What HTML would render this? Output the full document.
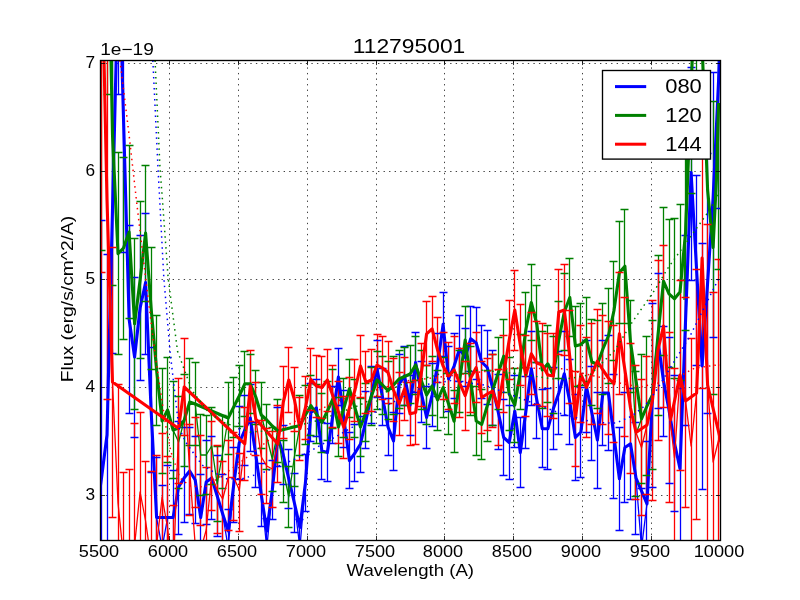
<!DOCTYPE html>
<html><head><meta charset="utf-8"><title>112795001</title>
<style>html,body{margin:0;padding:0;background:#fff;}body{width:800px;height:600px;overflow:hidden;font-family:"Liberation Sans",sans-serif;}</style>
</head><body>
<svg width="800" height="600" viewBox="0 0 800 600" style="display:block">
<rect width="800" height="600" fill="#ffffff"/>
<defs><clipPath id="ax"><rect x="100.5" y="60.5" width="620.0" height="480.0"/></clipPath></defs>
<path d="M169.5,540.5 V60.5 M238.5,540.5 V60.5 M307.5,540.5 V60.5 M376.5,540.5 V60.5 M444.5,540.5 V60.5 M513.5,540.5 V60.5 M582.5,540.5 V60.5 M651.5,540.5 V60.5 M100.5,63.5 H720.5 M100.5,171.5 H720.5 M100.5,279.5 H720.5 M100.5,387.5 H720.5 M100.5,495.5 H720.5" stroke="#000" stroke-width="0.75" stroke-dasharray="1.35 4.2" fill="none"/>
<g clip-path="url(#ax)">
<path d="M101.5,220.2 V800.0 M107.5,254.4 V800.0 M112.5,-100.0 V353.0 M118.5,-300.0 V94.4 M123.5,-100.0 V252.5 M129.5,225.0 V413.0 M134.5,277.0 V437.0 M140.5,235.5 V380.5 M145.5,213.5 V354.4 M151.5,347.5 V472.5 M156.5,457.0 V578.0 M162.5,485.0 V605.0 M167.5,465.5 V569.5 M173.5,470.5 V564.5 M178.5,421.6 V534.4 M184.5,427.8 V522.2 M189.5,427.0 V514.4 M195.5,436.7 V523.3 M200.5,474.8 V560.2 M206.5,440.0 V524.0 M211.5,436.7 V519.3 M217.5,455.3 V536.7 M222.5,474.0 V554.0 M228.5,509.2 V586.8 M233.5,447.5 V522.5 M239.5,406.8 V479.2 M244.5,395.0 V465.0 M250.5,384.2 V451.8 M255.5,422.5 V487.5 M261.5,463.8 V526.2 M266.5,518.0 V578.0 M272.5,460.2 V519.8 M277.5,407.3 V466.7 M283.5,425.5 V484.5 M288.5,449.7 V508.3 M294.5,473.8 V532.2 M299.5,519.0 V577.0 M305.5,454.1 V511.9 M310.5,383.7 V441.3 M316.5,379.3 V436.7 M321.5,422.4 V479.6 M327.5,424.0 V481.0 M332.5,386.5 V443.5 M338.5,348.6 V405.4 M343.5,390.7 V447.3 M349.5,432.4 V488.8 M354.5,424.9 V481.1 M360.5,416.0 V472.0 M365.5,391.8 V448.2 M371.5,366.7 V423.3 M377.5,340.2 V397.2 M382.5,368.3 V425.7 M388.5,398.2 V455.8 M393.5,412.0 V470.0 M399.5,354.7 V413.3 M404.5,346.3 V405.7 M410.5,375.0 V435.0 M415.5,332.2 V392.8 M421.5,361.3 V422.7 M426.5,386.5 V448.5 M432.5,363.7 V426.3 M437.5,333.3 V396.7 M443.5,292.4 V356.4 M448.5,346.4 V411.1 M454.5,333.3 V398.7 M459.5,315.8 V381.8 M465.5,328.5 V386.5 M470.5,306.2 V371.2 M476.5,307.0 V379.0 M481.5,325.6 V398.4 M487.5,330.8 V404.2 M492.5,350.9 V425.1 M498.5,374.6 V449.4 M503.5,399.8 V475.2 M509.5,405.7 V479.3 M514.5,375.3 V447.2 M520.5,417.5 V487.5 M525.5,376.0 V448.0 M531.5,331.8 V405.8 M536.5,362.0 V438.0 M542.5,389.8 V467.8 M547.5,388.1 V469.4 M553.5,367.7 V449.8 M558.5,351.5 V434.5 M564.5,331.9 V415.6 M569.5,359.7 V444.3 M575.5,394.8 V480.2 M580.5,387.0 V477.0 M586.5,340.2 V432.2 M591.5,366.0 V460.0 M597.5,392.0 V488.0 M602.5,340.3 V445.7 M608.5,335.7 V450.3 M613.5,374.0 V498.0 M619.5,427.1 V530.4 M624.5,392.8 V502.2 M630.5,388.1 V499.4 M635.5,422.0 V534.0 M641.5,488.0 V608.0 M646.5,441.8 V565.8 M652.5,303.0 V487.0 M658.5,273.5 V408.5 M663.5,326.0 V436.0 M669.5,337.0 V483.0 M674.5,375.0 V511.0 M680.5,388.8 V548.8 M685.5,235.0 V425.0 M691.5,67.5 V280.0 M696.5,175.0 V365.0 M702.5,243.0 V489.0 M707.5,153.0 V413.0 M713.5,72.5 V337.0 M718.5,-48.0 V208.0" stroke="#0000ff" stroke-width="1.3" fill="none"/>
<path d="M101.5,-100.0 V250.6 M107.5,-300.0 V94.0 M112.5,-100.0 V285.2 M118.5,152.8 V354.8 M123.5,157.0 V339.0 M129.5,145.4 V318.6 M134.5,238.1 V409.4 M140.5,201.4 V358.6 M145.5,165.0 V301.0 M151.5,247.0 V369.0 M156.5,315.0 V425.0 M162.5,368.2 V473.8 M167.5,357.6 V462.4 M173.5,381.6 V478.4 M178.5,396.0 V488.0 M184.5,374.5 V466.5 M189.5,358.1 V445.9 M195.5,362.5 V445.5 M200.5,414.4 V495.6 M206.5,415.3 V494.7 M211.5,407.2 V484.8 M217.5,446.2 V521.8 M222.5,415.1 V488.9 M228.5,382.0 V454.0 M233.5,377.0 V437.0 M239.5,365.4 V426.6 M244.5,351.2 V416.2 M250.5,354.0 V413.5 M255.5,370.0 V424.0 M261.5,382.0 V448.0 M266.5,404.5 V469.5 M272.5,427.0 V491.0 M277.5,399.5 V462.5 M283.5,440.0 V502.0 M288.5,466.5 V527.5 M294.5,426.5 V486.5 M299.5,395.7 V455.5 M305.5,385.2 V444.8 M310.5,375.9 V435.3 M316.5,384.4 V443.6 M321.5,393.0 V452.0 M327.5,381.6 V440.4 M332.5,369.7 V428.3 M338.5,397.8 V456.2 M343.5,378.9 V437.1 M349.5,359.8 V417.8 M354.5,379.0 V437.0 M360.5,398.0 V456.0 M365.5,383.0 V441.0 M371.5,367.0 V425.0 M377.5,351.0 V409.0 M382.5,356.0 V414.0 M388.5,361.6 V419.6 M393.5,356.0 V414.0 M399.5,350.0 V408.0 M404.5,347.5 V405.5 M410.5,345.0 V403.0 M415.5,336.0 V394.0 M421.5,350.8 V409.2 M426.5,365.5 V424.5 M432.5,356.2 V415.8 M437.5,370.0 V430.0 M443.5,357.2 V417.8 M448.5,373.5 V434.5 M454.5,390.5 V452.0 M459.5,350.0 V412.0 M465.5,306.2 V373.8 M470.5,346.8 V415.2 M476.5,386.4 V455.6 M481.5,389.4 V459.4 M487.5,370.7 V441.3 M492.5,354.3 V425.7 M498.5,337.0 V409.0 M503.5,319.9 V392.6 M509.5,357.3 V430.7 M514.5,368.0 V442.0 M520.5,334.7 V409.3 M525.5,292.3 V367.7 M531.5,264.5 V340.5 M536.5,285.9 V362.1 M542.5,331.7 V408.3 M547.5,325.3 V402.2 M553.5,336.4 V413.6 M558.5,301.3 V378.7 M564.5,273.1 V350.9 M569.5,258.5 V336.5 M575.5,306.0 V386.0 M580.5,303.4 V385.4 M586.5,297.4 V381.4 M591.5,319.0 V405.0 M597.5,320.4 V408.4 M602.5,303.2 V394.8 M608.5,288.5 V383.5 M613.5,261.8 V360.2 M619.5,221.5 V323.5 M624.5,209.2 V323.2 M630.5,300.4 V392.0 M635.5,371.9 V496.1 M641.5,354.1 V483.4 M646.5,336.3 V475.7 M652.5,320.1 V469.9 M658.5,255.0 V415.0 M663.5,207.2 V355.2 M669.5,219.8 V367.8 M674.5,218.8 V378.8 M680.5,204.0 V380.0 M685.5,120.0 V330.0 M691.5,-200.0 V193.5 M696.5,-300.0 V120.0 M702.5,-300.0 V30.0 M713.5,101.5 V394.0 M718.5,-100.0 V269.4" stroke="#008000" stroke-width="1.3" fill="none"/>
<path d="M101.5,-100.0 V272.5 M107.5,-100.0 V399.4 M112.5,247.5 V517.0 M118.5,384.4 V700.0 M123.5,472.5 V700.0 M129.5,469.8 V700.0 M134.5,423.5 V700.0 M140.5,412.5 V700.0 M145.5,461.2 V700.0 M151.5,471.2 V700.0 M156.5,455.6 V700.0 M162.5,433.0 V700.0 M167.5,456.5 V700.0 M173.5,505.2 V700.0 M178.5,378.0 V483.5 M184.5,338.4 V435.6 M189.5,424.0 V515.6 M195.5,417.0 V507.5 M200.5,435.0 V525.0 M206.5,467.5 V557.0 M211.5,421.2 V510.0 M217.5,445.4 V533.0 M222.5,461.0 V550.0 M228.5,440.0 V530.0 M233.5,432.0 V520.0 M239.5,453.0 V531.0 M244.5,407.2 V480.3 M250.5,350.4 V421.6 M255.5,382.7 V455.3 M261.5,420.0 V494.0 M266.5,428.5 V503.5 M272.5,431.0 V507.0 M277.5,405.5 V482.5 M283.5,366.0 V438.0 M288.5,347.5 V412.5 M294.5,367.4 V431.6 M299.5,397.0 V460.5 M305.5,376.6 V439.4 M310.5,348.4 V410.4 M316.5,355.0 V417.0 M321.5,356.5 V418.5 M327.5,349.0 V411.0 M332.5,365.0 V427.0 M338.5,381.0 V443.0 M343.5,396.5 V458.5 M349.5,377.0 V439.0 M354.5,359.0 V421.0 M360.5,335.0 V397.0 M365.5,351.5 V413.5 M371.5,349.0 V411.0 M377.5,334.0 V396.0 M382.5,336.9 V399.1 M388.5,341.3 V403.7 M393.5,358.7 V421.3 M399.5,372.3 V435.2 M404.5,357.2 V420.3 M410.5,382.1 V445.4 M415.5,380.7 V444.3 M421.5,343.1 V406.9 M426.5,301.8 V365.8 M432.5,296.4 V361.1 M437.5,317.3 V382.7 M443.5,332.9 V399.1 M448.5,342.5 V409.5 M454.5,336.2 V403.8 M459.5,348.8 V417.2 M465.5,361.1 V430.1 M470.5,343.1 V412.9 M476.5,332.2 V402.8 M481.5,361.9 V433.1 M487.5,358.0 V430.0 M492.5,354.2 V427.8 M498.5,369.9 V445.1 M503.5,335.6 V412.4 M509.5,300.8 V379.2 M514.5,270.0 V350.0 M520.5,304.7 V385.3 M525.5,335.4 V416.6 M531.5,312.8 V394.7 M536.5,321.7 V404.3 M542.5,323.4 V406.6 M547.5,333.1 V416.9 M553.5,333.7 V418.3 M558.5,269.4 V354.6 M564.5,264.4 V355.6 M569.5,310.3 V403.7 M575.5,371.0 V466.5 M580.5,325.2 V422.8 M586.5,337.6 V437.4 M591.5,323.1 V424.9 M597.5,309.2 V413.2 M602.5,315.8 V424.2 M608.5,321.5 V434.5 M613.5,325.0 V442.5 M619.5,272.8 V394.8 M624.5,297.2 V436.0 M630.5,343.0 V473.0 M635.5,365.5 V499.5 M641.5,379.5 V515.5 M646.5,356.0 V494.0 M652.5,300.0 V500.0 M658.5,260.0 V440.0 M663.5,245.0 V407.0 M669.5,332.5 V502.5 M674.5,368.0 V548.0 M680.5,280.0 V470.0 M685.5,297.5 V507.2 M691.5,338.0 V554.0 M696.5,269.4 V519.4 M702.5,128.0 V388.0 M707.5,224.0 V546.0 M713.5,292.0 V632.0 M718.5,259.0 V621.0" stroke="#ff0000" stroke-width="1.3" fill="none"/>
<path d="M97.5,220.5 H105.5 M97.5,800.5 H105.5 M103.5,254.5 H111.5 M103.5,800.5 H111.5 M108.5,-99.5 H116.5 M108.5,353.5 H116.5 M114.5,-299.5 H122.5 M114.5,94.5 H122.5 M119.5,-99.5 H127.5 M119.5,252.5 H127.5 M125.5,225.5 H133.5 M125.5,413.5 H133.5 M130.5,277.5 H138.5 M130.5,437.5 H138.5 M136.5,235.5 H144.5 M136.5,380.5 H144.5 M141.5,213.5 H149.5 M141.5,354.5 H149.5 M147.5,347.5 H155.5 M147.5,472.5 H155.5 M152.5,457.5 H160.5 M152.5,578.5 H160.5 M158.5,485.5 H166.5 M158.5,605.5 H166.5 M163.5,465.5 H171.5 M163.5,569.5 H171.5 M169.5,470.5 H177.5 M169.5,564.5 H177.5 M174.5,421.5 H182.5 M174.5,534.5 H182.5 M180.5,427.5 H188.5 M180.5,522.5 H188.5 M185.5,427.5 H193.5 M185.5,514.5 H193.5 M191.5,436.5 H199.5 M191.5,523.5 H199.5 M196.5,474.5 H204.5 M196.5,560.5 H204.5 M202.5,440.5 H210.5 M202.5,524.5 H210.5 M207.5,436.5 H215.5 M207.5,519.5 H215.5 M213.5,455.5 H221.5 M213.5,536.5 H221.5 M218.5,474.5 H226.5 M218.5,554.5 H226.5 M224.5,509.5 H232.5 M224.5,586.5 H232.5 M229.5,447.5 H237.5 M229.5,522.5 H237.5 M235.5,406.5 H243.5 M235.5,479.5 H243.5 M240.5,395.5 H248.5 M240.5,465.5 H248.5 M246.5,384.5 H254.5 M246.5,451.5 H254.5 M251.5,422.5 H259.5 M251.5,487.5 H259.5 M257.5,463.5 H265.5 M257.5,526.5 H265.5 M262.5,518.5 H270.5 M262.5,578.5 H270.5 M268.5,460.5 H276.5 M268.5,519.5 H276.5 M273.5,407.5 H281.5 M273.5,466.5 H281.5 M279.5,425.5 H287.5 M279.5,484.5 H287.5 M284.5,449.5 H292.5 M284.5,508.5 H292.5 M290.5,473.5 H298.5 M290.5,532.5 H298.5 M295.5,519.5 H303.5 M295.5,577.5 H303.5 M301.5,454.5 H309.5 M301.5,511.5 H309.5 M306.5,383.5 H314.5 M306.5,441.5 H314.5 M312.5,379.5 H320.5 M312.5,436.5 H320.5 M317.5,422.5 H325.5 M317.5,479.5 H325.5 M323.5,423.5 H331.5 M323.5,481.5 H331.5 M328.5,386.5 H336.5 M328.5,443.5 H336.5 M334.5,348.5 H342.5 M334.5,405.5 H342.5 M339.5,390.5 H347.5 M339.5,447.5 H347.5 M345.5,432.5 H353.5 M345.5,488.5 H353.5 M350.5,424.5 H358.5 M350.5,481.5 H358.5 M356.5,416.5 H364.5 M356.5,472.5 H364.5 M361.5,391.5 H369.5 M361.5,448.5 H369.5 M367.5,366.5 H375.5 M367.5,423.5 H375.5 M373.5,340.5 H381.5 M373.5,397.5 H381.5 M378.5,368.5 H386.5 M378.5,425.5 H386.5 M384.5,398.5 H392.5 M384.5,455.5 H392.5 M389.5,412.5 H397.5 M389.5,470.5 H397.5 M395.5,354.5 H403.5 M395.5,413.5 H403.5 M400.5,346.5 H408.5 M400.5,405.5 H408.5 M406.5,375.5 H414.5 M406.5,435.5 H414.5 M411.5,332.5 H419.5 M411.5,392.5 H419.5 M417.5,361.5 H425.5 M417.5,422.5 H425.5 M422.5,386.5 H430.5 M422.5,448.5 H430.5 M428.5,363.5 H436.5 M428.5,426.5 H436.5 M433.5,333.5 H441.5 M433.5,396.5 H441.5 M439.5,292.5 H447.5 M439.5,356.5 H447.5 M444.5,346.5 H452.5 M444.5,411.5 H452.5 M450.5,333.5 H458.5 M450.5,398.5 H458.5 M455.5,315.5 H463.5 M455.5,381.5 H463.5 M461.5,328.5 H469.5 M461.5,386.5 H469.5 M466.5,306.5 H474.5 M466.5,371.5 H474.5 M472.5,307.5 H480.5 M472.5,379.5 H480.5 M477.5,325.5 H485.5 M477.5,398.5 H485.5 M483.5,330.5 H491.5 M483.5,404.5 H491.5 M488.5,350.5 H496.5 M488.5,425.5 H496.5 M494.5,374.5 H502.5 M494.5,449.5 H502.5 M499.5,399.5 H507.5 M499.5,475.5 H507.5 M505.5,405.5 H513.5 M505.5,479.5 H513.5 M510.5,375.5 H518.5 M510.5,447.5 H518.5 M516.5,417.5 H524.5 M516.5,487.5 H524.5 M521.5,376.5 H529.5 M521.5,448.5 H529.5 M527.5,331.5 H535.5 M527.5,405.5 H535.5 M532.5,362.5 H540.5 M532.5,438.5 H540.5 M538.5,389.5 H546.5 M538.5,467.5 H546.5 M543.5,388.5 H551.5 M543.5,469.5 H551.5 M549.5,367.5 H557.5 M549.5,449.5 H557.5 M554.5,351.5 H562.5 M554.5,434.5 H562.5 M560.5,331.5 H568.5 M560.5,415.5 H568.5 M565.5,359.5 H573.5 M565.5,444.5 H573.5 M571.5,394.5 H579.5 M571.5,480.5 H579.5 M576.5,387.5 H584.5 M576.5,477.5 H584.5 M582.5,340.5 H590.5 M582.5,432.5 H590.5 M587.5,366.5 H595.5 M587.5,460.5 H595.5 M593.5,392.5 H601.5 M593.5,488.5 H601.5 M598.5,340.5 H606.5 M598.5,445.5 H606.5 M604.5,335.5 H612.5 M604.5,450.5 H612.5 M609.5,374.5 H617.5 M609.5,498.5 H617.5 M615.5,427.5 H623.5 M615.5,530.5 H623.5 M620.5,392.5 H628.5 M620.5,502.5 H628.5 M626.5,388.5 H634.5 M626.5,499.5 H634.5 M631.5,422.5 H639.5 M631.5,534.5 H639.5 M637.5,488.5 H645.5 M637.5,608.5 H645.5 M642.5,441.5 H650.5 M642.5,565.5 H650.5 M648.5,303.5 H656.5 M648.5,487.5 H656.5 M654.5,273.5 H662.5 M654.5,408.5 H662.5 M659.5,326.5 H667.5 M659.5,436.5 H667.5 M665.5,337.5 H673.5 M665.5,483.5 H673.5 M670.5,375.5 H678.5 M670.5,511.5 H678.5 M676.5,388.5 H684.5 M676.5,548.5 H684.5 M681.5,235.5 H689.5 M681.5,425.5 H689.5 M687.5,67.5 H695.5 M687.5,280.5 H695.5 M692.5,175.5 H700.5 M692.5,365.5 H700.5 M698.5,243.5 H706.5 M698.5,489.5 H706.5 M703.5,153.5 H711.5 M703.5,413.5 H711.5 M709.5,72.5 H717.5 M709.5,337.5 H717.5 M714.5,-47.5 H722.5 M714.5,208.5 H722.5" stroke="#0000ff" stroke-width="1.3" fill="none"/>
<path d="M129.1,319.0 L134.6,357.0 L140.1,308.0 L145.6,282.5 L151.1,410.0 L156.6,517.5 L162.1,548.0 L167.6,517.5 L173.1,517.5 L178.6,487.0 L184.1,478.0 L189.7,471.0 L195.2,480.0 L200.7,517.5 L206.2,482.0 L211.7,478.0 L217.2,496.0 L222.7,514.0 L228.2,548.0 L233.7,485.0 L239.2,443.0 L244.8,430.0 L250.3,418.0 L255.8,455.0 L261.3,495.0 L266.8,548.0 L272.3,490.0 L277.8,437.0 L283.3,455.0 L288.8,479.0 L294.4,503.0 L299.9,548.0 L305.4,483.0 L310.9,412.5 L316.4,408.0 L321.9,451.0 L327.4,452.5 L332.9,415.0 L338.4,377.0 L343.9,419.0 L349.4,460.6 L355.0,453.0 L360.5,444.0 L366.0,420.0 L371.5,395.0 L377.0,368.8 L382.5,397.0 L388.0,427.0 L393.5,441.0 L399.0,384.0 L404.6,376.0 L410.1,405.0 L415.6,362.5 L421.1,392.0 L426.6,417.5 L432.1,395.0 L437.6,365.0 L443.1,324.4 L448.6,378.8 L454.1,366.0 L459.6,348.8 L465.2,357.5 L470.7,338.8 L476.2,343.0 L481.7,362.0 L487.2,367.5 L492.7,388.0 L498.2,412.0 L503.7,437.5 L509.2,442.5 L514.8,411.2 L520.3,452.5 L525.8,412.0 L531.3,368.8 L536.8,400.0 L542.3,428.8 L547.8,428.8 L553.3,408.8 L558.8,393.0 L564.3,373.8 L569.8,402.0 L575.4,437.5 L580.9,432.0 L586.4,386.2 L591.9,413.0 L597.4,440.0 L602.9,393.0 L608.4,393.0 L613.9,436.0 L619.4,478.8 L624.9,447.5 L630.5,443.8 L636.0,478.0 L641.5,548.0 L647.0,503.8 L652.5,395.0 L658.0,341.0 L663.5,381.0 L669.0,410.0 L674.5,443.0 L680.0,468.8 L685.6,330.0 L691.1,172.5 L696.6,270.0 L702.1,366.0 L707.6,283.0 L713.1,198.0 L718.6,80.0" stroke="#0000ff" stroke-width="1.3" fill="none" stroke-linejoin="round"/>
<path d="M95.0,525.0 L101.5,478.0 L107.0,435.0 L116.4,50.0" stroke="#0000ff" stroke-width="3.1" fill="none" stroke-linejoin="round"/>
<path d="M121.6,50.0 L129.1,319.0 L134.6,357.0 L140.1,308.0 L145.6,282.5 L151.1,410.0 L156.6,517.5 L162.1,517.5 L167.6,517.5 L173.1,517.5 L178.6,487.0 L184.1,478.0 L189.7,471.0 L195.2,480.0 L200.7,517.5 L206.2,482.0 L211.7,478.0 L217.2,496.0 L222.7,514.0 L228.2,531.0 L233.7,485.0 L239.2,443.0 L244.8,430.0 L250.3,418.0 L255.8,455.0 L261.3,495.0 L266.8,531.0 L272.3,490.0 L277.8,437.0 L283.3,455.0 L288.8,479.0 L294.4,503.0 L299.9,527.5 L305.4,483.0 L310.9,412.5 L316.4,408.0 L321.9,451.0 L327.4,452.5 L332.9,415.0 L338.4,377.0 L343.9,419.0 L349.4,460.6 L355.0,453.0 L360.5,444.0 L366.0,420.0 L371.5,395.0 L377.0,368.8 L382.5,397.0 L388.0,427.0 L393.5,441.0 L399.0,384.0 L404.6,376.0 L410.1,405.0 L415.6,362.5 L421.1,392.0 L426.6,417.5 L432.1,395.0 L437.6,365.0 L443.1,324.4 L448.6,378.8 L454.1,366.0 L459.6,348.8 L465.2,357.5 L470.7,338.8 L476.2,343.0 L481.7,362.0 L487.2,367.5 L492.7,388.0 L498.2,412.0 L503.7,437.5 L509.2,442.5 L514.8,411.2 L520.3,452.5 L525.8,412.0 L531.3,368.8 L536.8,400.0 L542.3,428.8 L547.8,428.8 L553.3,408.8 L558.8,393.0 L564.3,373.8 L569.8,402.0 L575.4,437.5 L580.9,432.0 L586.4,386.2 L591.9,413.0 L597.4,440.0 L602.9,393.0 L608.4,393.0 L613.9,436.0 L619.4,478.8 L624.9,447.5 L630.5,443.8 L636.0,478.0 L647.0,503.8 L652.5,395.0 L658.0,341.0 L663.5,381.0 L669.0,410.0 L674.5,443.0 L680.0,468.8 L691.1,172.5 L696.6,270.0 L702.1,366.0 L707.6,283.0 L713.1,198.0 L718.6,80.0 L720.2,40.0" stroke="#0000ff" stroke-width="3.1" fill="none" stroke-linejoin="round"/>
<path d="M97.5,-99.5 H105.5 M97.5,250.5 H105.5 M103.5,-299.5 H111.5 M103.5,94.5 H111.5 M108.5,-99.5 H116.5 M108.5,285.5 H116.5 M114.5,152.5 H122.5 M114.5,354.5 H122.5 M119.5,157.5 H127.5 M119.5,339.5 H127.5 M125.5,145.5 H133.5 M125.5,318.5 H133.5 M130.5,238.5 H138.5 M130.5,409.5 H138.5 M136.5,201.5 H144.5 M136.5,358.5 H144.5 M141.5,165.5 H149.5 M141.5,301.5 H149.5 M147.5,247.5 H155.5 M147.5,369.5 H155.5 M152.5,315.5 H160.5 M152.5,425.5 H160.5 M158.5,368.5 H166.5 M158.5,473.5 H166.5 M163.5,357.5 H171.5 M163.5,462.5 H171.5 M169.5,381.5 H177.5 M169.5,478.5 H177.5 M174.5,396.5 H182.5 M174.5,488.5 H182.5 M180.5,374.5 H188.5 M180.5,466.5 H188.5 M185.5,358.5 H193.5 M185.5,445.5 H193.5 M191.5,362.5 H199.5 M191.5,445.5 H199.5 M196.5,414.5 H204.5 M196.5,495.5 H204.5 M202.5,415.5 H210.5 M202.5,494.5 H210.5 M207.5,407.5 H215.5 M207.5,484.5 H215.5 M213.5,446.5 H221.5 M213.5,521.5 H221.5 M218.5,415.5 H226.5 M218.5,488.5 H226.5 M224.5,382.5 H232.5 M224.5,454.5 H232.5 M229.5,377.5 H237.5 M229.5,437.5 H237.5 M235.5,365.5 H243.5 M235.5,426.5 H243.5 M240.5,351.5 H248.5 M240.5,416.5 H248.5 M246.5,354.5 H254.5 M246.5,413.5 H254.5 M251.5,370.5 H259.5 M251.5,424.5 H259.5 M257.5,382.5 H265.5 M257.5,448.5 H265.5 M262.5,404.5 H270.5 M262.5,469.5 H270.5 M268.5,427.5 H276.5 M268.5,491.5 H276.5 M273.5,399.5 H281.5 M273.5,462.5 H281.5 M279.5,440.5 H287.5 M279.5,502.5 H287.5 M284.5,466.5 H292.5 M284.5,527.5 H292.5 M290.5,426.5 H298.5 M290.5,486.5 H298.5 M295.5,395.5 H303.5 M295.5,455.5 H303.5 M301.5,385.5 H309.5 M301.5,444.5 H309.5 M306.5,375.5 H314.5 M306.5,435.5 H314.5 M312.5,384.5 H320.5 M312.5,443.5 H320.5 M317.5,393.5 H325.5 M317.5,452.5 H325.5 M323.5,381.5 H331.5 M323.5,440.5 H331.5 M328.5,369.5 H336.5 M328.5,428.5 H336.5 M334.5,397.5 H342.5 M334.5,456.5 H342.5 M339.5,378.5 H347.5 M339.5,437.5 H347.5 M345.5,359.5 H353.5 M345.5,417.5 H353.5 M350.5,379.5 H358.5 M350.5,437.5 H358.5 M356.5,398.5 H364.5 M356.5,456.5 H364.5 M361.5,383.5 H369.5 M361.5,441.5 H369.5 M367.5,367.5 H375.5 M367.5,425.5 H375.5 M373.5,351.5 H381.5 M373.5,409.5 H381.5 M378.5,356.5 H386.5 M378.5,414.5 H386.5 M384.5,361.5 H392.5 M384.5,419.5 H392.5 M389.5,356.5 H397.5 M389.5,414.5 H397.5 M395.5,350.5 H403.5 M395.5,408.5 H403.5 M400.5,347.5 H408.5 M400.5,405.5 H408.5 M406.5,345.5 H414.5 M406.5,403.5 H414.5 M411.5,336.5 H419.5 M411.5,394.5 H419.5 M417.5,350.5 H425.5 M417.5,409.5 H425.5 M422.5,365.5 H430.5 M422.5,424.5 H430.5 M428.5,356.5 H436.5 M428.5,415.5 H436.5 M433.5,370.5 H441.5 M433.5,430.5 H441.5 M439.5,357.5 H447.5 M439.5,417.5 H447.5 M444.5,373.5 H452.5 M444.5,434.5 H452.5 M450.5,390.5 H458.5 M450.5,452.5 H458.5 M455.5,350.5 H463.5 M455.5,412.5 H463.5 M461.5,306.5 H469.5 M461.5,373.5 H469.5 M466.5,346.5 H474.5 M466.5,415.5 H474.5 M472.5,386.5 H480.5 M472.5,455.5 H480.5 M477.5,389.5 H485.5 M477.5,459.5 H485.5 M483.5,370.5 H491.5 M483.5,441.5 H491.5 M488.5,354.5 H496.5 M488.5,425.5 H496.5 M494.5,337.5 H502.5 M494.5,409.5 H502.5 M499.5,319.5 H507.5 M499.5,392.5 H507.5 M505.5,357.5 H513.5 M505.5,430.5 H513.5 M510.5,368.5 H518.5 M510.5,442.5 H518.5 M516.5,334.5 H524.5 M516.5,409.5 H524.5 M521.5,292.5 H529.5 M521.5,367.5 H529.5 M527.5,264.5 H535.5 M527.5,340.5 H535.5 M532.5,285.5 H540.5 M532.5,362.5 H540.5 M538.5,331.5 H546.5 M538.5,408.5 H546.5 M543.5,325.5 H551.5 M543.5,402.5 H551.5 M549.5,336.5 H557.5 M549.5,413.5 H557.5 M554.5,301.5 H562.5 M554.5,378.5 H562.5 M560.5,273.5 H568.5 M560.5,350.5 H568.5 M565.5,258.5 H573.5 M565.5,336.5 H573.5 M571.5,306.5 H579.5 M571.5,386.5 H579.5 M576.5,303.5 H584.5 M576.5,385.5 H584.5 M582.5,297.5 H590.5 M582.5,381.5 H590.5 M587.5,319.5 H595.5 M587.5,405.5 H595.5 M593.5,320.5 H601.5 M593.5,408.5 H601.5 M598.5,303.5 H606.5 M598.5,394.5 H606.5 M604.5,288.5 H612.5 M604.5,383.5 H612.5 M609.5,261.5 H617.5 M609.5,360.5 H617.5 M615.5,221.5 H623.5 M615.5,323.5 H623.5 M620.5,209.5 H628.5 M620.5,323.5 H628.5 M626.5,300.5 H634.5 M626.5,392.5 H634.5 M631.5,371.5 H639.5 M631.5,496.5 H639.5 M637.5,354.5 H645.5 M637.5,483.5 H645.5 M642.5,336.5 H650.5 M642.5,475.5 H650.5 M648.5,320.5 H656.5 M648.5,469.5 H656.5 M654.5,255.5 H662.5 M654.5,415.5 H662.5 M659.5,207.5 H667.5 M659.5,355.5 H667.5 M665.5,219.5 H673.5 M665.5,367.5 H673.5 M670.5,218.5 H678.5 M670.5,378.5 H678.5 M676.5,204.5 H684.5 M676.5,380.5 H684.5 M681.5,120.5 H689.5 M681.5,330.5 H689.5 M687.5,-199.5 H695.5 M687.5,193.5 H695.5 M692.5,-299.5 H700.5 M692.5,120.5 H700.5 M698.5,-299.5 H706.5 M698.5,30.5 H706.5 M709.5,101.5 H717.5 M709.5,394.5 H717.5 M714.5,-99.5 H722.5 M714.5,269.5 H722.5" stroke="#008000" stroke-width="1.3" fill="none"/>
<path d="M112.5,135.0 L118.0,253.8 L123.5,248.0 L129.1,232.0 L134.6,323.8 L140.1,280.0 L145.6,233.0 L151.1,308.0 L156.6,370.0 L162.1,421.0 L167.6,410.0 L173.1,430.0 L178.6,442.0 L184.1,420.5 L189.7,402.0 L195.2,404.0 L200.7,455.0 L206.2,455.0 L211.7,446.0 L217.2,484.0 L222.7,452.0 L228.2,418.0 L233.7,407.0 L239.2,396.0 L244.8,383.8 L250.3,383.8 L255.8,397.0 L261.3,415.0 L266.8,437.0 L272.3,459.0 L277.8,431.0 L283.3,471.0 L288.8,497.0 L294.4,456.5 L299.9,425.6 L305.4,415.0 L310.9,405.6 L316.4,414.0 L321.9,422.5 L327.4,411.0 L332.9,399.0 L338.4,427.0 L343.9,408.0 L349.4,388.8 L355.0,408.0 L360.5,427.0 L366.0,412.0 L371.5,396.0 L377.0,380.0 L382.5,385.0 L388.0,390.6 L393.5,385.0 L399.0,379.0 L404.6,376.5 L410.1,374.0 L415.6,365.0 L421.1,380.0 L426.6,395.0 L432.1,386.0 L437.6,400.0 L443.1,387.5 L448.6,404.0 L454.1,421.2 L459.6,381.0 L465.2,340.0 L470.7,381.0 L476.2,421.0 L481.7,424.4 L487.2,406.0 L492.7,390.0 L498.2,373.0 L503.7,356.2 L509.2,394.0 L514.8,405.0 L520.3,372.0 L525.8,330.0 L531.3,302.5 L536.8,324.0 L542.3,370.0 L547.8,363.8 L553.3,375.0 L558.8,340.0 L564.3,312.0 L569.8,297.5 L575.4,346.0 L580.9,344.4 L586.4,339.4 L591.9,362.0 L597.4,364.4 L602.9,349.0 L608.4,336.0 L613.9,311.0 L619.4,272.5 L624.9,266.2 L630.5,342.0 L636.0,434.0 L641.5,418.8 L647.0,406.0 L652.5,395.0 L658.0,335.0 L663.5,281.2 L669.0,293.8 L674.5,298.8 L680.0,292.0 L685.6,232.0" stroke="#008000" stroke-width="1.3" fill="none" stroke-linejoin="round"/>
<path d="M110.8,50.0 L112.5,135.0 L118.0,253.8 L123.5,248.0 L129.1,232.0 L134.6,323.8 L140.1,280.0 L145.6,233.0 L151.1,308.0 L156.6,370.0 L162.1,421.0 L167.6,410.0 L173.1,430.0 L178.6,428.0 L184.1,420.5 L189.7,402.0 L195.2,404.0 L228.2,418.0 L233.7,407.0 L239.2,396.0 L244.8,383.8 L250.3,383.8 L255.8,397.0 L261.3,415.0 L266.8,420.0 L272.3,426.0 L277.8,431.0 L299.9,425.6 L305.4,415.0 L310.9,405.6 L316.4,414.0 L321.9,422.5 L327.4,411.0 L332.9,399.0 L338.4,427.0 L343.9,408.0 L349.4,388.8 L355.0,408.0 L360.5,427.0 L366.0,412.0 L371.5,396.0 L377.0,380.0 L382.5,385.0 L388.0,390.6 L393.5,385.0 L399.0,379.0 L404.6,376.5 L410.1,374.0 L415.6,365.0 L421.1,380.0 L426.6,395.0 L432.1,386.0 L437.6,400.0 L443.1,387.5 L448.6,404.0 L454.1,421.2 L459.6,381.0 L465.2,340.0 L470.7,381.0 L476.2,421.0 L481.7,424.4 L487.2,406.0 L492.7,390.0 L498.2,373.0 L503.7,356.2 L509.2,394.0 L514.8,405.0 L520.3,372.0 L525.8,330.0 L531.3,302.5 L536.8,324.0 L542.3,370.0 L547.8,363.8 L553.3,375.0 L558.8,340.0 L564.3,312.0 L569.8,297.5 L575.4,346.0 L580.9,344.4 L586.4,339.4 L591.9,362.0 L597.4,364.4 L602.9,349.0 L608.4,336.0 L613.9,311.0 L619.4,272.5 L624.9,266.2 L630.5,342.0 L641.5,418.8 L647.0,406.0 L652.5,395.0 L658.0,335.0 L663.5,281.2 L669.0,293.8 L674.5,298.8 L680.0,292.0 L685.6,232.0 L692.6,50.0" stroke="#008000" stroke-width="3.1" fill="none" stroke-linejoin="round"/>
<path d="M702.3,50.0 L707.6,190.0 L713.1,247.5 L716.4,180.0 L718.6,103.0" stroke="#008000" stroke-width="3.1" fill="none" stroke-linejoin="round"/>
<path d="M686.4,75 L686.5,160 L684,300" stroke="#008000" stroke-width="1.3" fill="none"/>
<path d="M97.5,-99.5 H105.5 M97.5,272.5 H105.5 M103.5,-99.5 H111.5 M103.5,399.5 H111.5 M108.5,247.5 H116.5 M108.5,517.5 H116.5 M114.5,384.5 H122.5 M114.5,700.5 H122.5 M119.5,472.5 H127.5 M119.5,700.5 H127.5 M125.5,469.5 H133.5 M125.5,700.5 H133.5 M130.5,423.5 H138.5 M130.5,700.5 H138.5 M136.5,412.5 H144.5 M136.5,700.5 H144.5 M141.5,461.5 H149.5 M141.5,700.5 H149.5 M147.5,471.5 H155.5 M147.5,700.5 H155.5 M152.5,455.5 H160.5 M152.5,700.5 H160.5 M158.5,433.5 H166.5 M158.5,700.5 H166.5 M163.5,456.5 H171.5 M163.5,700.5 H171.5 M169.5,505.5 H177.5 M169.5,700.5 H177.5 M174.5,378.5 H182.5 M174.5,483.5 H182.5 M180.5,338.5 H188.5 M180.5,435.5 H188.5 M185.5,424.5 H193.5 M185.5,515.5 H193.5 M191.5,417.5 H199.5 M191.5,507.5 H199.5 M196.5,435.5 H204.5 M196.5,525.5 H204.5 M202.5,467.5 H210.5 M202.5,557.5 H210.5 M207.5,421.5 H215.5 M207.5,510.5 H215.5 M213.5,445.5 H221.5 M213.5,533.5 H221.5 M218.5,461.5 H226.5 M218.5,550.5 H226.5 M224.5,440.5 H232.5 M224.5,530.5 H232.5 M229.5,432.5 H237.5 M229.5,520.5 H237.5 M235.5,453.5 H243.5 M235.5,531.5 H243.5 M240.5,407.5 H248.5 M240.5,480.5 H248.5 M246.5,350.5 H254.5 M246.5,421.5 H254.5 M251.5,382.5 H259.5 M251.5,455.5 H259.5 M257.5,420.5 H265.5 M257.5,494.5 H265.5 M262.5,428.5 H270.5 M262.5,503.5 H270.5 M268.5,431.5 H276.5 M268.5,507.5 H276.5 M273.5,405.5 H281.5 M273.5,482.5 H281.5 M279.5,366.5 H287.5 M279.5,438.5 H287.5 M284.5,347.5 H292.5 M284.5,412.5 H292.5 M290.5,367.5 H298.5 M290.5,431.5 H298.5 M295.5,397.5 H303.5 M295.5,460.5 H303.5 M301.5,376.5 H309.5 M301.5,439.5 H309.5 M306.5,348.5 H314.5 M306.5,410.5 H314.5 M312.5,355.5 H320.5 M312.5,417.5 H320.5 M317.5,356.5 H325.5 M317.5,418.5 H325.5 M323.5,349.5 H331.5 M323.5,411.5 H331.5 M328.5,365.5 H336.5 M328.5,427.5 H336.5 M334.5,381.5 H342.5 M334.5,443.5 H342.5 M339.5,396.5 H347.5 M339.5,458.5 H347.5 M345.5,377.5 H353.5 M345.5,439.5 H353.5 M350.5,359.5 H358.5 M350.5,421.5 H358.5 M356.5,335.5 H364.5 M356.5,397.5 H364.5 M361.5,351.5 H369.5 M361.5,413.5 H369.5 M367.5,349.5 H375.5 M367.5,411.5 H375.5 M373.5,334.5 H381.5 M373.5,396.5 H381.5 M378.5,336.5 H386.5 M378.5,399.5 H386.5 M384.5,341.5 H392.5 M384.5,403.5 H392.5 M389.5,358.5 H397.5 M389.5,421.5 H397.5 M395.5,372.5 H403.5 M395.5,435.5 H403.5 M400.5,357.5 H408.5 M400.5,420.5 H408.5 M406.5,382.5 H414.5 M406.5,445.5 H414.5 M411.5,380.5 H419.5 M411.5,444.5 H419.5 M417.5,343.5 H425.5 M417.5,406.5 H425.5 M422.5,301.5 H430.5 M422.5,365.5 H430.5 M428.5,296.5 H436.5 M428.5,361.5 H436.5 M433.5,317.5 H441.5 M433.5,382.5 H441.5 M439.5,332.5 H447.5 M439.5,399.5 H447.5 M444.5,342.5 H452.5 M444.5,409.5 H452.5 M450.5,336.5 H458.5 M450.5,403.5 H458.5 M455.5,348.5 H463.5 M455.5,417.5 H463.5 M461.5,361.5 H469.5 M461.5,430.5 H469.5 M466.5,343.5 H474.5 M466.5,412.5 H474.5 M472.5,332.5 H480.5 M472.5,402.5 H480.5 M477.5,361.5 H485.5 M477.5,433.5 H485.5 M483.5,358.5 H491.5 M483.5,430.5 H491.5 M488.5,354.5 H496.5 M488.5,427.5 H496.5 M494.5,369.5 H502.5 M494.5,445.5 H502.5 M499.5,335.5 H507.5 M499.5,412.5 H507.5 M505.5,300.5 H513.5 M505.5,379.5 H513.5 M510.5,270.5 H518.5 M510.5,350.5 H518.5 M516.5,304.5 H524.5 M516.5,385.5 H524.5 M521.5,335.5 H529.5 M521.5,416.5 H529.5 M527.5,312.5 H535.5 M527.5,394.5 H535.5 M532.5,321.5 H540.5 M532.5,404.5 H540.5 M538.5,323.5 H546.5 M538.5,406.5 H546.5 M543.5,333.5 H551.5 M543.5,416.5 H551.5 M549.5,333.5 H557.5 M549.5,418.5 H557.5 M554.5,269.5 H562.5 M554.5,354.5 H562.5 M560.5,264.5 H568.5 M560.5,355.5 H568.5 M565.5,310.5 H573.5 M565.5,403.5 H573.5 M571.5,371.5 H579.5 M571.5,466.5 H579.5 M576.5,325.5 H584.5 M576.5,422.5 H584.5 M582.5,337.5 H590.5 M582.5,437.5 H590.5 M587.5,323.5 H595.5 M587.5,424.5 H595.5 M593.5,309.5 H601.5 M593.5,413.5 H601.5 M598.5,315.5 H606.5 M598.5,424.5 H606.5 M604.5,321.5 H612.5 M604.5,434.5 H612.5 M609.5,325.5 H617.5 M609.5,442.5 H617.5 M615.5,272.5 H623.5 M615.5,394.5 H623.5 M620.5,297.5 H628.5 M620.5,436.5 H628.5 M626.5,343.5 H634.5 M626.5,473.5 H634.5 M631.5,365.5 H639.5 M631.5,499.5 H639.5 M637.5,379.5 H645.5 M637.5,515.5 H645.5 M642.5,356.5 H650.5 M642.5,494.5 H650.5 M648.5,300.5 H656.5 M648.5,500.5 H656.5 M654.5,260.5 H662.5 M654.5,440.5 H662.5 M659.5,245.5 H667.5 M659.5,407.5 H667.5 M665.5,332.5 H673.5 M665.5,502.5 H673.5 M670.5,368.5 H678.5 M670.5,548.5 H678.5 M676.5,280.5 H684.5 M676.5,470.5 H684.5 M681.5,297.5 H689.5 M681.5,507.5 H689.5 M687.5,338.5 H695.5 M687.5,554.5 H695.5 M692.5,269.5 H700.5 M692.5,519.5 H700.5 M698.5,128.5 H706.5 M698.5,388.5 H706.5 M703.5,224.5 H711.5 M703.5,546.5 H711.5 M709.5,292.5 H717.5 M709.5,632.5 H717.5 M714.5,259.5 H722.5 M714.5,621.5 H722.5" stroke="#ff0000" stroke-width="1.3" fill="none"/>
<path d="M101.5,-60.0 L107.0,200.0 L112.5,382.0 L118.0,503.0 L123.5,557.0 L129.0,600.0 L134.6,545.0 L140.1,492.0 L145.6,521.0 L151.1,560.0 L156.6,545.0 L162.1,497.0 L167.6,528.0 L173.1,580.0 L178.6,428.5 L184.2,387.0 L189.7,470.0 L195.2,545.0 L200.7,550.0 L206.2,530.0 L211.7,476.0 L217.2,490.0 L222.7,499.0 L228.3,477.5 L233.8,477.5 L239.3,490.0 L244.8,443.8 L250.3,386.0 L255.8,419.0 L261.3,457.0 L266.8,466.0 L272.3,469.0 L277.8,444.0 L283.3,402.0 L288.8,380.0 L294.4,399.5 L299.9,428.8 L305.4,408.0 L310.9,379.4 L316.4,386.0 L321.9,387.5 L327.4,380.0 L332.9,396.0 L338.4,412.0 L343.9,427.5 L349.4,408.0 L355.0,390.0 L360.5,366.0 L366.0,382.5 L371.5,380.0 L377.0,365.0 L382.5,368.0 L388.0,372.5 L393.5,390.0 L399.0,403.8 L404.6,388.8 L410.1,413.8 L415.6,412.5 L421.1,375.0 L426.6,333.8 L432.1,328.8 L437.6,350.0 L443.1,366.0 L448.6,376.0 L454.1,370.0 L459.6,383.0 L465.2,395.6 L470.7,378.0 L476.2,367.5 L481.7,397.5 L487.2,394.0 L492.7,391.0 L498.2,407.5 L503.7,374.0 L509.2,340.0 L514.8,310.0 L520.3,345.0 L525.8,376.0 L531.3,353.8 L536.8,363.0 L542.3,365.0 L547.8,375.0 L553.3,376.0 L558.8,312.0 L564.3,310.0 L569.8,357.0 L575.4,418.8 L580.9,374.0 L586.4,387.5 L591.9,374.0 L597.4,361.2 L602.9,370.0 L608.4,378.0 L613.9,383.8 L619.4,333.8 L624.9,370.0 L630.5,408.0 L636.0,432.5 L641.5,447.5 L647.0,425.0 L652.5,400.0 L658.0,350.0 L663.5,326.0 L669.0,410.0 L674.5,458.0 L680.0,375.0 L685.6,401.0 L691.1,446.0 L696.6,393.0 L702.1,258.0 L707.6,385.0 L713.1,462.0 L718.6,440.0 L724.0,445.0" stroke="#ff0000" stroke-width="1.3" fill="none" stroke-linejoin="round"/>
<path d="M101.5,-60.0 L107.0,200.0 L112.5,382.0 L178.6,428.5 L184.2,387.0 L244.8,443.8 L250.3,386.0 L255.8,419.0 L277.8,444.0 L283.3,402.0 L288.8,380.0 L294.4,399.5 L299.9,428.8 L305.4,408.0 L310.9,379.4 L316.4,386.0 L321.9,387.5 L327.4,380.0 L332.9,396.0 L338.4,412.0 L343.9,427.5 L349.4,408.0 L355.0,390.0 L360.5,366.0 L366.0,382.5 L371.5,380.0 L377.0,365.0 L382.5,368.0 L388.0,372.5 L393.5,390.0 L399.0,403.8 L404.6,388.8 L410.1,413.8 L415.6,412.5 L421.1,375.0 L426.6,333.8 L432.1,328.8 L437.6,350.0 L443.1,366.0 L448.6,376.0 L454.1,370.0 L459.6,383.0 L465.2,395.6 L470.7,378.0 L476.2,367.5 L481.7,397.5 L487.2,394.0 L492.7,391.0 L498.2,407.5 L503.7,374.0 L509.2,340.0 L514.8,310.0 L520.3,345.0 L525.8,376.0 L531.3,353.8 L536.8,363.0 L542.3,365.0 L547.8,375.0 L553.3,376.0 L558.8,312.0 L564.3,310.0 L569.8,357.0 L575.4,418.8 L580.9,374.0 L586.4,387.5 L591.9,374.0 L597.4,361.2 L602.9,370.0 L608.4,378.0 L613.9,383.8 L619.4,333.8 L624.9,370.0 L630.5,408.0 L636.0,432.5 L647.0,425.0 L652.5,400.0 L658.0,350.0 L663.5,326.0 L670.5,420.0 L680.0,375.0 L685.6,401.0 L691.1,397.0 L696.6,393.0 L702.1,258.0 L707.6,385.0 L718.6,432.0 L724.0,455.0" stroke="#ff0000" stroke-width="3.1" fill="none" stroke-linejoin="round"/>
<path d="M152.6,55.0 L158.0,168.0 L163.8,277.5 L170.0,351.0 L178.8,427.5 L186.0,442.5 L202.0,465.0 L225.0,478.8 L242.0,478.8 L263.0,472.5 L298.8,457.5 L323.0,443.8 L347.5,430.0 L361.0,422.0 L380.0,408.8 L429.0,384.0 L451.0,380.6 L484.0,385.0 L520.0,398.0 L562.0,414.0 L589.4,421.2 L605.6,423.0 L616.0,423.0 L632.0,416.0 L645.0,405.6 L655.0,392.5 L690.0,336.0 L720.0,276.0 L730.0,256.0" stroke="#0000ff" stroke-width="1.5" stroke-dasharray="1.5 4.0" fill="none"/>
<path d="M154.8,55.0 L160.0,168.0 L162.5,200.6 L168.1,277.5 L177.5,351.0 L192.0,390.6 L208.8,412.5 L222.5,422.0 L250.0,432.0 L280.0,430.0 L320.0,420.0 L360.0,405.0 L400.0,385.0 L440.0,374.0 L480.0,370.0 L520.0,374.0 L560.0,380.0 L590.0,375.0 L615.0,350.0 L633.0,321.0 L655.6,288.8 L667.0,269.4 L708.8,211.2 L720.0,192.0 L730.0,175.0" stroke="#008000" stroke-width="1.5" stroke-dasharray="1.5 4.0" fill="none"/>
<path d="M119.3,55.0 L128.8,132.5 L136.9,204.4 L145.6,278.0 L155.3,356.0 L165.6,425.0 L171.0,452.0 L180.0,478.0 L190.0,486.0 L205.0,487.0 L230.0,470.0 L246.0,458.0 L263.8,444.0 L285.6,427.0 L290.0,423.8 L340.0,400.0 L408.8,380.6 L425.6,378.8 L513.0,368.0 L563.8,368.8 L601.0,377.5 L622.5,383.8 L640.0,387.0 L672.0,380.0 L695.0,368.0 L717.0,365.0 L730.0,365.0" stroke="#ff0000" stroke-width="1.5" stroke-dasharray="1.5 4.0" fill="none"/>
</g>
<rect x="100.5" y="60.5" width="620.0" height="480.0" fill="none" stroke="#000" stroke-width="1.35"/>
<path d="M100.5,540.5 v-4.6 M100.5,60.5 v4.6 M169.5,540.5 v-4.6 M169.5,60.5 v4.6 M238.5,540.5 v-4.6 M238.5,60.5 v4.6 M307.5,540.5 v-4.6 M307.5,60.5 v4.6 M376.5,540.5 v-4.6 M376.5,60.5 v4.6 M444.5,540.5 v-4.6 M444.5,60.5 v4.6 M513.5,540.5 v-4.6 M513.5,60.5 v4.6 M582.5,540.5 v-4.6 M582.5,60.5 v4.6 M651.5,540.5 v-4.6 M651.5,60.5 v4.6 M720.5,540.5 v-4.6 M720.5,60.5 v4.6 M100.5,63.5 h4.6 M720.5,63.5 h-4.6 M100.5,171.5 h4.6 M720.5,171.5 h-4.6 M100.5,279.5 h4.6 M720.5,279.5 h-4.6 M100.5,387.5 h4.6 M720.5,387.5 h-4.6 M100.5,495.5 h4.6 M720.5,495.5 h-4.6" stroke="#000" stroke-width="0.8" fill="none"/>
<rect x="602.5" y="70.5" width="108" height="88.6" fill="#fff" stroke="#000" stroke-width="1.35"/>
<path d="M615,86.6 H646.2" stroke="#0000ff" stroke-width="3.0"/>
<path d="M615,115.4 H646.2" stroke="#008000" stroke-width="3.0"/>
<path d="M615,144.2 H646.2" stroke="#ff0000" stroke-width="3.0"/>
<g font-family="'Liberation Sans', sans-serif" fill="#000" style="will-change:transform">
<text x="99.0" y="556.8" font-size="16.60" text-anchor="middle" textLength="40.4" lengthAdjust="spacingAndGlyphs" >5500</text>
<text x="168.0" y="556.8" font-size="16.60" text-anchor="middle" textLength="40.4" lengthAdjust="spacingAndGlyphs" >6000</text>
<text x="237.0" y="556.8" font-size="16.60" text-anchor="middle" textLength="40.4" lengthAdjust="spacingAndGlyphs" >6500</text>
<text x="306.0" y="556.8" font-size="16.60" text-anchor="middle" textLength="40.4" lengthAdjust="spacingAndGlyphs" >7000</text>
<text x="375.0" y="556.8" font-size="16.60" text-anchor="middle" textLength="40.4" lengthAdjust="spacingAndGlyphs" >7500</text>
<text x="443.0" y="556.8" font-size="16.60" text-anchor="middle" textLength="40.4" lengthAdjust="spacingAndGlyphs" >8000</text>
<text x="512.0" y="556.8" font-size="16.60" text-anchor="middle" textLength="40.4" lengthAdjust="spacingAndGlyphs" >8500</text>
<text x="581.0" y="556.8" font-size="16.60" text-anchor="middle" textLength="40.4" lengthAdjust="spacingAndGlyphs" >9000</text>
<text x="650.0" y="556.8" font-size="16.60" text-anchor="middle" textLength="40.4" lengthAdjust="spacingAndGlyphs" >9500</text>
<text x="719.0" y="556.8" font-size="16.60" text-anchor="middle" textLength="50.6" lengthAdjust="spacingAndGlyphs" >10000</text>
<text x="95.0" y="68.1" font-size="16.60" text-anchor="end" textLength="9.6" lengthAdjust="spacingAndGlyphs" >7</text>
<text x="95.0" y="176.1" font-size="16.60" text-anchor="end" textLength="9.6" lengthAdjust="spacingAndGlyphs" >6</text>
<text x="95.0" y="284.1" font-size="16.60" text-anchor="end" textLength="9.6" lengthAdjust="spacingAndGlyphs" >5</text>
<text x="95.0" y="392.1" font-size="16.60" text-anchor="end" textLength="9.6" lengthAdjust="spacingAndGlyphs" >4</text>
<text x="95.0" y="500.1" font-size="16.60" text-anchor="end" textLength="9.6" lengthAdjust="spacingAndGlyphs" >3</text>
<text x="100.2" y="54.6" font-size="16.60" text-anchor="start" textLength="53.6" lengthAdjust="spacingAndGlyphs" >1e−19</text>
<text x="409.0" y="53.2" font-size="19.80" text-anchor="middle" textLength="112.6" lengthAdjust="spacingAndGlyphs" >112795001</text>
<text x="410.3" y="576.1" font-size="16.60" text-anchor="middle" textLength="127.4" lengthAdjust="spacingAndGlyphs" >Wavelength (A)</text>
<text transform="translate(73.4,299) rotate(-90)" font-size="16.6" text-anchor="middle" textLength="166.5" lengthAdjust="spacingAndGlyphs">Flux (erg/s/cm^2/A)</text>
<text x="665.2" y="92.9" font-size="19.50" text-anchor="start" textLength="36.6" lengthAdjust="spacingAndGlyphs" >080</text>
<text x="665.2" y="121.7" font-size="19.50" text-anchor="start" textLength="36.6" lengthAdjust="spacingAndGlyphs" >120</text>
<text x="665.2" y="150.5" font-size="19.50" text-anchor="start" textLength="36.6" lengthAdjust="spacingAndGlyphs" >144</text>
</g>
</svg>
</body></html>
